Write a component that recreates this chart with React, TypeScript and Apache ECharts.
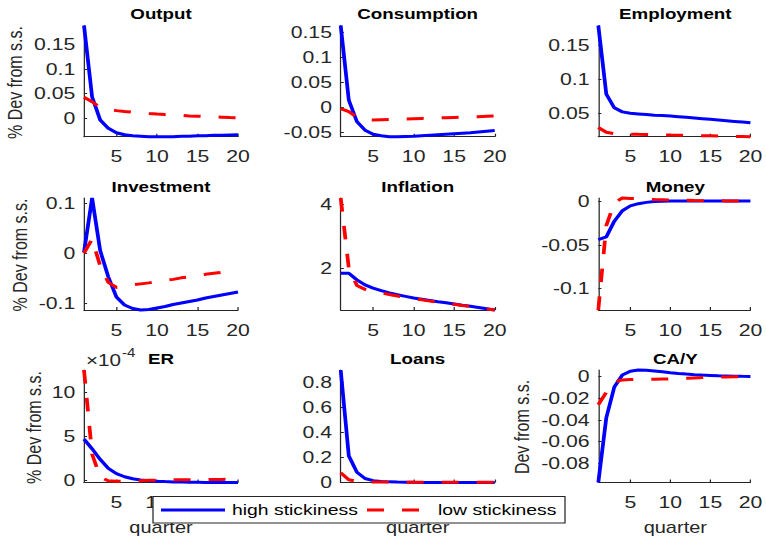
import React, { useEffect, useRef } from "react";
import * as echarts from "echarts";

// Impulse responses, quarters 1..20, for the two price-stickiness cases.
const QUARTERS = [1, 2, 3, 4, 5, 6, 7, 8, 9, 10, 11, 12, 13, 14, 15, 16, 17, 18, 19, 20];
const X_TICKS = [5, 10, 15, 20];
// bottom-row tick labels that stay visible beside the legend box
const X_TICKS_ER = [5, 10];
const X_TICKS_NONE: number[] = [];

const OUTPUT_HIGH = [0.188, 0.043, -0.004, -0.021, -0.03, -0.034, -0.036, -0.037, -0.038, -0.038, -0.038, -0.038, -0.037, -0.037, -0.036, -0.036, -0.035, -0.035, -0.0345, -0.034];
const OUTPUT_LOW = [0.042, 0.033, 0.021, 0.017, 0.015, 0.0133, 0.0118, 0.0104, 0.0091, 0.0079, 0.0069, 0.006, 0.0051, 0.0043, 0.0036, 0.0029, 0.0022, 0.0016, 0.001, 0.0005];
const OUTPUT_TICKS = [0, 0.05, 0.1, 0.15];

const CONS_HIGH = [0.163, 0.014, -0.029, -0.046, -0.054, -0.057, -0.059, -0.059, -0.0585, -0.058, -0.057, -0.056, -0.055, -0.054, -0.053, -0.052, -0.051, -0.0495, -0.048, -0.0465];
const CONS_LOW = [-0.003, -0.009, -0.02, -0.025, -0.0255, -0.025, -0.0245, -0.024, -0.0235, -0.023, -0.0225, -0.022, -0.0215, -0.021, -0.0205, -0.02, -0.0195, -0.019, -0.018, -0.0175];
const CONS_TICKS = [-0.05, 0, 0.05, 0.1, 0.15];

const EMPL_HIGH = [0.179, 0.078, 0.058, 0.052, 0.05, 0.049, 0.048, 0.047, 0.0465, 0.046, 0.045, 0.044, 0.043, 0.042, 0.041, 0.04, 0.039, 0.038, 0.037, 0.036];
const EMPL_LOW = [0.029, 0.022, 0.02, 0.0195, 0.0193, 0.019, 0.0188, 0.0185, 0.0183, 0.018, 0.0178, 0.0175, 0.0173, 0.017, 0.0168, 0.0165, 0.0163, 0.016, 0.0158, 0.0155];
const EMPL_TICKS = [0.05, 0.1, 0.15];

const INV_HIGH = [0.002, 0.11, 0.005, -0.047, -0.087, -0.103, -0.11, -0.113, -0.112, -0.109, -0.106, -0.102, -0.099, -0.096, -0.093, -0.089, -0.086, -0.083, -0.08, -0.077];
const INV_LOW = [0.0, 0.028, -0.025, -0.058, -0.068, -0.066, -0.063, -0.061, -0.059, -0.056, -0.054, -0.052, -0.049, -0.047, -0.045, -0.042, -0.04, -0.038, -0.035, -0.033];
const INV_TICKS = [-0.1, 0, 0.1];

const INFL_HIGH = [1.84, 1.84, 1.63, 1.47, 1.37, 1.29, 1.22, 1.16, 1.11, 1.06, 1.02, 0.98, 0.94, 0.91, 0.87, 0.83, 0.8, 0.76, 0.72, 0.68];
const INFL_LOW = [4.21, 2.0, 1.45, 1.33, 1.27, 1.22, 1.17, 1.12, 1.08, 1.04, 1.0, 0.96, 0.93, 0.9, 0.86, 0.82, 0.79, 0.75, 0.71, 0.68];
const INFL_TICKS = [2, 4];

const MONEY_HIGH = [-0.044, -0.041, -0.023, -0.011, -0.0055, -0.003, -0.0015, -0.0006, -0.0002, 0, 0, 0, 0, 0, 0, 0, 0, 0, 0, 0];
const MONEY_LOW = [-0.1245, -0.028, -0.002, 0.0035, 0.003, 0.0026, 0.0022, 0.0018, 0.0015, 0.0012, 0.001, 0.0008, 0.0006, 0.0005, 0.0004, 0.0003, 0.0002, 0.0001, 0.0001, 0];
const MONEY_TICKS = [-0.1, -0.05, 0];

const ER_HIGH = [4.7e-4, 3.6e-4, 2.4e-4, 1.4e-4, 0.8e-4, 0.45e-4, 0.22e-4, 0.08e-4, 0, -0.06e-4, -0.1e-4, -0.13e-4, -0.15e-4, -0.17e-4, -0.18e-4, -0.19e-4, -0.19e-4, -0.2e-4, -0.2e-4, -0.2e-4];
const ER_LOW = [12.5e-4, 3.0e-4, 0.4e-4, 0, -0.05e-4, -0.05e-4, 0, 0, 0.05e-4, 0.05e-4, 0.08e-4, 0.1e-4, 0.1e-4, 0.12e-4, 0.12e-4, 0.14e-4, 0.15e-4, 0.15e-4, 0.16e-4, 0.16e-4];
const ER_TICKS = [0, 5e-4, 10e-4];

const LOANS_HIGH = [0.895, 0.21, 0.08, 0.03, 0.013, 0.006, 0.003, 0.001, 0, -0.001, -0.0015, -0.002, -0.002, -0.002, -0.002, -0.002, -0.002, -0.002, -0.002, -0.002];
const LOANS_LOW = [0.075, 0.02, 0.006, 0.003, 0.002, 0.001, 0.001, 0.0005, 0, 0, 0, 0, 0, 0, 0, 0, 0, 0, 0, 0];
const LOANS_TICKS = [0, 0.2, 0.4, 0.6, 0.8];

const CAY_HIGH = [-0.098, -0.038, -0.0095, 0.0015, 0.005, 0.0062, 0.006, 0.0053, 0.0045, 0.0037, 0.003, 0.0024, 0.0019, 0.0015, 0.0012, 0.0009, 0.0007, 0.0005, 0.0003, 0.0002];
const CAY_LOW = [-0.026, -0.0145, -0.005, -0.003, -0.0027, -0.0026, -0.0025, -0.0024, -0.0022, -0.002, -0.0017, -0.0014, -0.0011, -0.0008, -0.0006, -0.0004, -0.0002, -0.0001, 0, 0];
const CAY_TICKS = [-0.08, -0.06, -0.04, -0.02, 0];

const TITLES = ["Output", "Consumption", "Employment", "Investment", "Inflation", "Money", "ER", "Loans", "CA/Y"];
const HIGH = [OUTPUT_HIGH, CONS_HIGH, EMPL_HIGH, INV_HIGH, INFL_HIGH, MONEY_HIGH, ER_HIGH, LOANS_HIGH, CAY_HIGH];
const LOW = [OUTPUT_LOW, CONS_LOW, EMPL_LOW, INV_LOW, INFL_LOW, MONEY_LOW, ER_LOW, LOANS_LOW, CAY_LOW];
const Y_TICKS = [OUTPUT_TICKS, CONS_TICKS, EMPL_TICKS, INV_TICKS, INFL_TICKS, MONEY_TICKS, ER_TICKS, LOANS_TICKS, CAY_TICKS];
const X_LABELS = [X_TICKS, X_TICKS, X_TICKS, X_TICKS, X_TICKS, X_TICKS, X_TICKS_ER, X_TICKS_NONE, X_TICKS];
const ER_INDEX = 6;

const SERIES_NAMES = ["high stickiness", "low stickiness"];
const BLUE = "#0000ff";
const RED = "#ff0000";
const DASH = [13.6, 14.4];

// The figure is drawn in a narrower canvas and stretched horizontally.
const CHART_W = 613;
const CHART_H = 537;
const SX = 766 / CHART_W;

const COL_LEFT = [84, 340.7, 598.3];
const PLOT_W = 154;
const ROW_TOP = [25.5, 198, 370];
const ROW_H = [111.2, 112, 112.5];

const FONT = "'Liberation Sans', Arial, Helvetica, sans-serif";
const AXIS_COLOR = "#262626";
const TICK_FONT = 17;
const LEGEND_Z = 100;

function fmt(v: number, scaled: boolean) {
  if (scaled) return String(Math.round(v * 1e4));
  return String(parseFloat(v.toFixed(4)));
}

function buildOption() {
  const grid: any[] = [];
  const xAxis: any[] = [];
  const yAxis: any[] = [];
  const series: any[] = [];
  const graphic: any[] = [];

  TITLES.forEach((title, i) => {
    const r = Math.floor(i / 3);
    const c = i % 3;
    const scaled = i === ER_INDEX;
    grid.push({
      left: COL_LEFT[c] / SX,
      top: ROW_TOP[r],
      width: PLOT_W / SX,
      height: ROW_H[r],
      containLabel: false,
    });
    xAxis.push({
      type: "value",
      gridIndex: i,
      min: 1,
      max: 20,
      z: 0,
      axisLine: { show: true, onZero: false, lineStyle: { color: AXIS_COLOR, width: 1 } },
      axisTick: { show: true, inside: true, length: 3, customValues: X_TICKS, lineStyle: { color: AXIS_COLOR } },
      axisLabel: {
        show: X_LABELS[i].length > 0,
        customValues: X_LABELS[i],
        fontSize: TICK_FONT,
        fontFamily: FONT,
        color: AXIS_COLOR,
        margin: 11.5,
      },
      splitLine: { show: false },
    });
    yAxis.push({
      type: "value",
      gridIndex: i,
      min: "dataMin",
      max: "dataMax",
      axisLine: { show: true, onZero: false, lineStyle: { color: AXIS_COLOR, width: 1 } },
      axisTick: { show: true, inside: true, length: 2.5, customValues: Y_TICKS[i], lineStyle: { color: AXIS_COLOR } },
      axisLabel: {
        customValues: Y_TICKS[i],
        fontSize: TICK_FONT,
        fontFamily: FONT,
        color: AXIS_COLOR,
        margin: 7,
        formatter: (v: number) => fmt(v, scaled),
      },
      splitLine: { show: false },
    });
    series.push({
      type: "line",
      name: SERIES_NAMES[0],
      xAxisIndex: i,
      yAxisIndex: i,
      data: QUARTERS.map((q, k) => [q, HIGH[i][k]]),
      symbol: "none",
      clip: false,
      silent: true,
      color: BLUE,
      lineStyle: { color: BLUE, width: 3 },
      z: 2,
    });
    series.push({
      type: "line",
      name: SERIES_NAMES[1],
      xAxisIndex: i,
      yAxisIndex: i,
      data: QUARTERS.map((q, k) => [q, LOW[i][k]]),
      symbol: "none",
      clip: false,
      silent: true,
      color: RED,
      lineStyle: { color: RED, width: 3, type: DASH },
      z: 3,
    });

    const cx = (COL_LEFT[c] + PLOT_W / 2) / SX;
    graphic.push({
      type: "text",
      x: cx,
      y: ROW_TOP[r] - 11,
      style: {
        text: title,
        fontSize: 15,
        fontWeight: "bold",
        fontFamily: FONT,
        fill: "#000",
        align: "center",
        verticalAlign: "middle",
      },
    });
    if (r === 2) {
      graphic.push({
        type: "text",
        x: cx,
        y: 528,
        style: {
          text: "quarter",
          fontSize: 16,
          fontFamily: FONT,
          fill: AXIS_COLOR,
          align: "center",
          verticalAlign: "middle",
        },
      });
    }
  });

  // y-axis titles
  const yTitles = [
    { text: "% Dev from s.s.", x: 15, y: 82.5 },
    { text: "% Dev from s.s.", x: 20.8, y: 255 },
    { text: "% Dev from s.s.", x: 34.2, y: 427.5 },
    { text: "Dev from s.s.", x: 522, y: 427 },
  ];
  yTitles.forEach((t) => {
    graphic.push({
      type: "text",
      x: t.x / SX,
      y: t.y,
      rotation: Math.PI / 2,
      style: {
        text: t.text,
        fontSize: 16,
        fontFamily: FONT,
        fill: AXIS_COLOR,
        align: "center",
        verticalAlign: "middle",
      },
    });
  });

  // exponent of the ER axis
  graphic.push({
    type: "text",
    x: 86 / SX,
    y: 360,
    style: { text: "×10", fontSize: 16.5, fontFamily: FONT, fill: AXIS_COLOR, align: "left", verticalAlign: "middle" },
  });
  graphic.push({
    type: "text",
    x: 122 / SX,
    y: 353,
    style: { text: "-4", fontSize: 12, fontFamily: FONT, fill: AXIS_COLOR, align: "left", verticalAlign: "middle" },
  });

  // legend box across the bottom row, drawn over the axis labels it covers
  const legY = 510;
  graphic.push({
    type: "rect",
    z: LEGEND_Z,
    zlevel: 1,
    shape: { x: 153 / SX, y: 496.5, width: 412 / SX, height: 26.5 },
    style: { fill: "#fff", stroke: AXIS_COLOR, lineWidth: 1 },
  });
  graphic.push({
    type: "line",
    z: LEGEND_Z + 1,
    zlevel: 1,
    shape: { x1: 161 / SX, y1: legY, x2: 225 / SX, y2: legY },
    style: { stroke: BLUE, lineWidth: 3 },
  });
  graphic.push({
    type: "text",
    z: LEGEND_Z + 1,
    zlevel: 1,
    x: 232 / SX,
    y: legY,
    style: { text: SERIES_NAMES[0], fontSize: 15.5, fontFamily: FONT, fill: "#000", align: "left", verticalAlign: "middle" },
  });
  graphic.push({
    type: "line",
    z: LEGEND_Z + 1,
    zlevel: 1,
    shape: { x1: 367 / SX, y1: legY, x2: 431 / SX, y2: legY },
    style: { stroke: RED, lineWidth: 3, lineDash: DASH },
  });
  graphic.push({
    type: "text",
    z: LEGEND_Z + 1,
    zlevel: 1,
    x: 438 / SX,
    y: legY,
    style: { text: SERIES_NAMES[1], fontSize: 15.5, fontFamily: FONT, fill: "#000", align: "left", verticalAlign: "middle" },
  });

  return {
    animation: false,
    backgroundColor: "#fff",
    grid,
    xAxis,
    yAxis,
    series,
    graphic,
  };
}

export default function App() {
  const ref = useRef<HTMLDivElement>(null);
  useEffect(() => {
    if (!ref.current) return;
    const chart = echarts.init(ref.current, null, { renderer: "svg" });
    chart.setOption(buildOption() as any);
    return () => chart.dispose();
  }, []);
  return (
    <div
      ref={ref}
      style={{
        position: "fixed",
        left: 0,
        top: 0,
        width: CHART_W,
        height: CHART_H,
        transform: `scaleX(${SX})`,
        transformOrigin: "0 0",
        background: "#fff",
      }}
    />
  );
}
